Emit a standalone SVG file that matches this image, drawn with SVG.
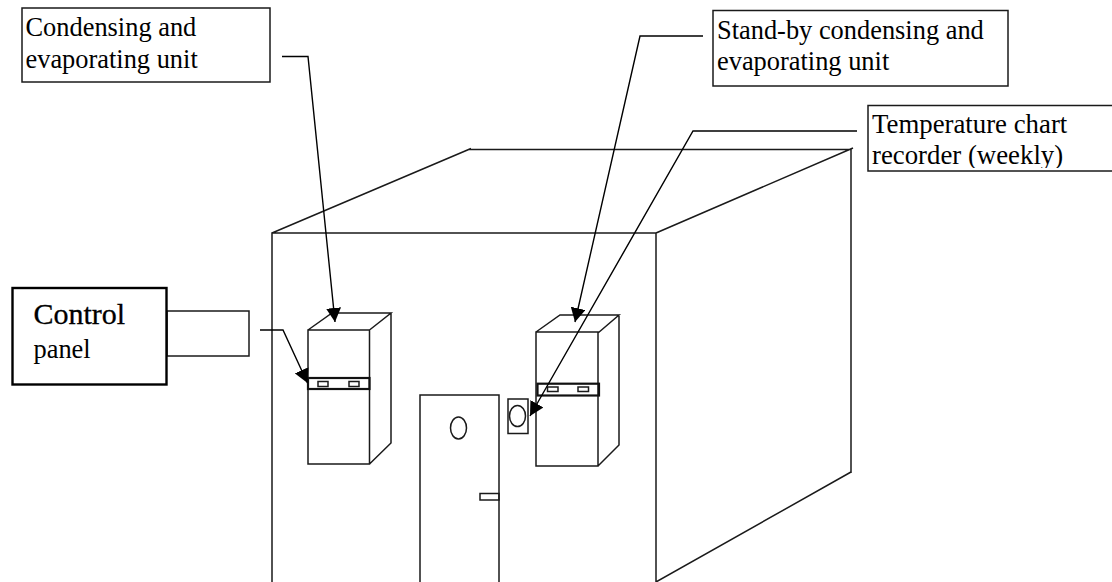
<svg xmlns="http://www.w3.org/2000/svg" width="1112" height="582" viewBox="0 0 1112 582">
<style>
.l{fill:none;stroke:#1a1a1a;stroke-width:1.5}
.h{fill:none;stroke:#111;stroke-width:2.2}
.b{fill:#fff;stroke:#1a1a1a;stroke-width:1.5}
.k{fill:#fff;stroke:#000;stroke-width:2.4}
.t{font-family:"Liberation Serif","Times New Roman",serif;font-size:26.400px;fill:#000}
.c{stroke:#000;stroke-width:1.4;fill:none;marker-end:url(#ah)}
</style>
<defs>
<marker id="ah" markerUnits="userSpaceOnUse" viewBox="0 0 14 15" markerWidth="14" markerHeight="15" refX="14" refY="7.500" orient="auto"><path d="M0 0L14 7.500L0 15Z" fill="#000"/></marker>
<clipPath id="clipT"><rect x="868" y="105" width="244" height="63"/></clipPath>
</defs>
<rect width="1112" height="582" fill="#fff"/>
<g id="room">
<path class="l" d="M272 582V233H656V582M272 233L471 148.500M468 149.500H851V473M656 233L853 148M656 582L851 472"/>
</g>
<g id="door">
<path class="l" d="M420 582V395H499V582"/>
<ellipse class="l" cx="458.500" cy="428" rx="8" ry="11"/>
<rect class="l" x="480" y="493.500" width="19" height="6.500"/>
</g>
<g id="recorder">
<rect class="l" x="508" y="399" width="20" height="34.500"/>
<ellipse class="l" cx="517.500" cy="416" rx="8" ry="10.500"/>
</g>
<g id="unit-left">
<path class="l" d="M308 330H369.500V464H308ZM308 330L332 313H391L369.500 330M391 313V443L369.500 464"/>
<rect class="h" x="308" y="378" width="61.500" height="11"/>
<rect class="l" x="318" y="381.500" width="10" height="5"/>
<rect class="l" x="349" y="381.500" width="10" height="5"/>
</g>
<g id="unit-right">
<path class="l" d="M536 332H598V466H536ZM536 332L560 315H619L598 333M619 316V445L598 466"/>
<rect class="h" x="537.500" y="383.700" width="61.500" height="11.800"/>
<rect class="l" x="547.500" y="387" width="10.500" height="4.500"/>
<rect class="l" x="578" y="387" width="10.500" height="4.500"/>
</g>
<g id="control-panel">
<rect class="l" x="167" y="311" width="82" height="45"/>
<rect class="k" x="12.500" y="288" width="154" height="96.500"/>
<text class="t" x="33.500" y="324" style="font-size:30px;stroke:#000;stroke-width:.3">Control</text>
<text class="t" x="33.500" y="358">panel</text>
</g>
<g id="label-condensing">
<rect class="b" x="22" y="8" width="248" height="74"/>
<text class="t" x="25.500" y="36">Condensing and</text>
<text class="t" x="25.500" y="68">evaporating unit</text>
</g>
<g id="label-standby">
<rect class="b" x="713" y="10.500" width="295" height="75.500"/>
<text class="t" x="717" y="39">Stand-by condensing and</text>
<text class="t" x="717" y="70">evaporating unit</text>
</g>
<g id="label-recorder">
<rect class="b" x="868" y="105.500" width="250" height="65.500"/>
<g clip-path="url(#clipT)">
<text class="t" x="872" y="133" style="font-size:26.800px">Temperature chart</text>
<text class="t" x="872" y="164" style="font-size:26.800px">recorder (weekly)</text>
</g>
</g>
<g id="connectors">
<path class="c" d="M282 56.500H308L335 322"/>
<path class="c" d="M260 330H283L307.500 383"/>
<path class="c" d="M703 36H640L575 322"/>
<path class="c" d="M857 131H693L530 416"/>
</g>
</svg>
